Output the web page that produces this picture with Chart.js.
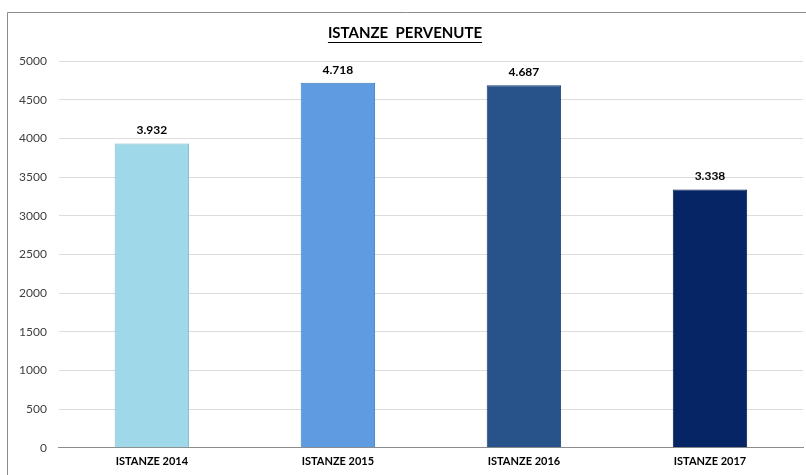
<!DOCTYPE html>
<html>
<head>
<meta charset="utf-8">
<script src="https://cdn.jsdelivr.net/npm/chart.js@4/dist/chart.umd.min.js"></script>
<style>
  html, body { margin: 0; padding: 0; background: #fff; }
  #wrap { width: 806px; height: 475px; }
</style>
</head>
<body>
<div id="wrap"><canvas id="istanzeChart" width="806" height="475"></canvas></div>
<script>
// chart data
const categories = ["ISTANZE 2014", "ISTANZE 2015", "ISTANZE 2016", "ISTANZE 2017"];
const istanzeValues = [3932, 4718, 4687, 3338];
const barColors = ["#9FD9E9", "#5E9BE0", "#27528A", "#062565"];
const barEdges = ["#7FB9C9", "#3F7CC0", "#163B6B", "#021848"];
const chartTitle = "ISTANZE  PERVENUTE";

const fontFam = "Lato, 'Noto Sans', sans-serif";
const titlePadTop = 10;
const titleSize = 15;

// frame round the chart (left + top only, like the cropped screenshot)
const framePlugin = {
    id: "frame",
    beforeDraw: (chart) => {
        let ctx = chart.ctx;
        ctx.save();
        ctx.strokeStyle = "#8c8c8c";
        ctx.lineWidth = 1;
        ctx.beginPath();
        ctx.moveTo(7.5, chart.height);
        ctx.lineTo(7.5, 12.5);
        ctx.lineTo(chart.width, 12.5);
        ctx.stroke();
        ctx.restore();
    }
};

// underline under the title + value labels above the bars
const labelPlugin = {
    id: "labels",
    afterDraw: (chart) => {
        let ctx = chart.ctx;
        ctx.save();
        let tb = chart.titleBlock;
        if (tb) {
            ctx.font = "bold " + titleSize + "px " + fontFam;
            let w = ctx.measureText(chartTitle).width;
            let cx = tb.left + tb.width / 2;
            let y = Math.round(tb.top + titlePadTop + titleSize * 1.2);
            ctx.strokeStyle = "#000";
            ctx.lineWidth = 1;
            ctx.beginPath();
            ctx.moveTo(cx - w / 2, y + 0.5);
            ctx.lineTo(cx + w / 2, y + 0.5);
            ctx.stroke();
        }
        let meta = chart.getDatasetMeta(0);
        ctx.font = "bold 12px " + fontFam;
        ctx.fillStyle = "#000";
        ctx.textAlign = "center";
        ctx.textBaseline = "bottom";
        meta.data.forEach((bar, i) => {
            let txt = istanzeValues[i].toLocaleString("it-IT");
            ctx.fillText(txt, bar.x, bar.y - 7);
        });
        ctx.restore();
    }
};

try {
    let canvasObject = document.getElementById("istanzeChart");
    new Chart(canvasObject, {
        type: "bar",
        data: {
            labels: categories,
            datasets: [
                {
                    label: chartTitle,
                    data: istanzeValues,
                    backgroundColor: barColors,
                    borderColor: barEdges,
                    borderWidth: 1,
                    barPercentage: 0.4,
                    categoryPercentage: 1.0,
                }
            ],
        },
        options: {
            responsive: false,
            animation: false,
            layout: {
                padding: { left: 7, right: 3, top: 14, bottom: 0 }
            },
            scales: {
                y: {
                    min: 0,
                    max: 5000,
                    ticks: {
                        stepSize: 500,
                        color: "#404040",
                        padding: 12,
                        font: { family: fontFam, size: 12 },
                        callback: (value) => String(value),
                    },
                    grid: {
                        color: "#dcdcdc",
                        drawTicks: false,
                    },
                    border: { display: false },
                },
                x: {
                    ticks: {
                        color: "#000",
                        padding: 7,
                        font: { family: fontFam, size: 11, weight: "bold" },
                    },
                    grid: { display: false, drawTicks: false },
                    border: { display: true, color: "#8c8c8c" },
                }
            },
            plugins: {
                legend: { display: false },
                tooltip: { enabled: false },
                title: {
                    display: true,
                    text: chartTitle,
                    color: "#000",
                    font: { family: fontFam, size: titleSize, weight: "bold" },
                    padding: { top: titlePadTop, bottom: 19 },
                }
            }
        },
        plugins: [framePlugin, labelPlugin],
    });
} catch (error) {
    console.log(error.message);
}
</script>
</body>
</html>
